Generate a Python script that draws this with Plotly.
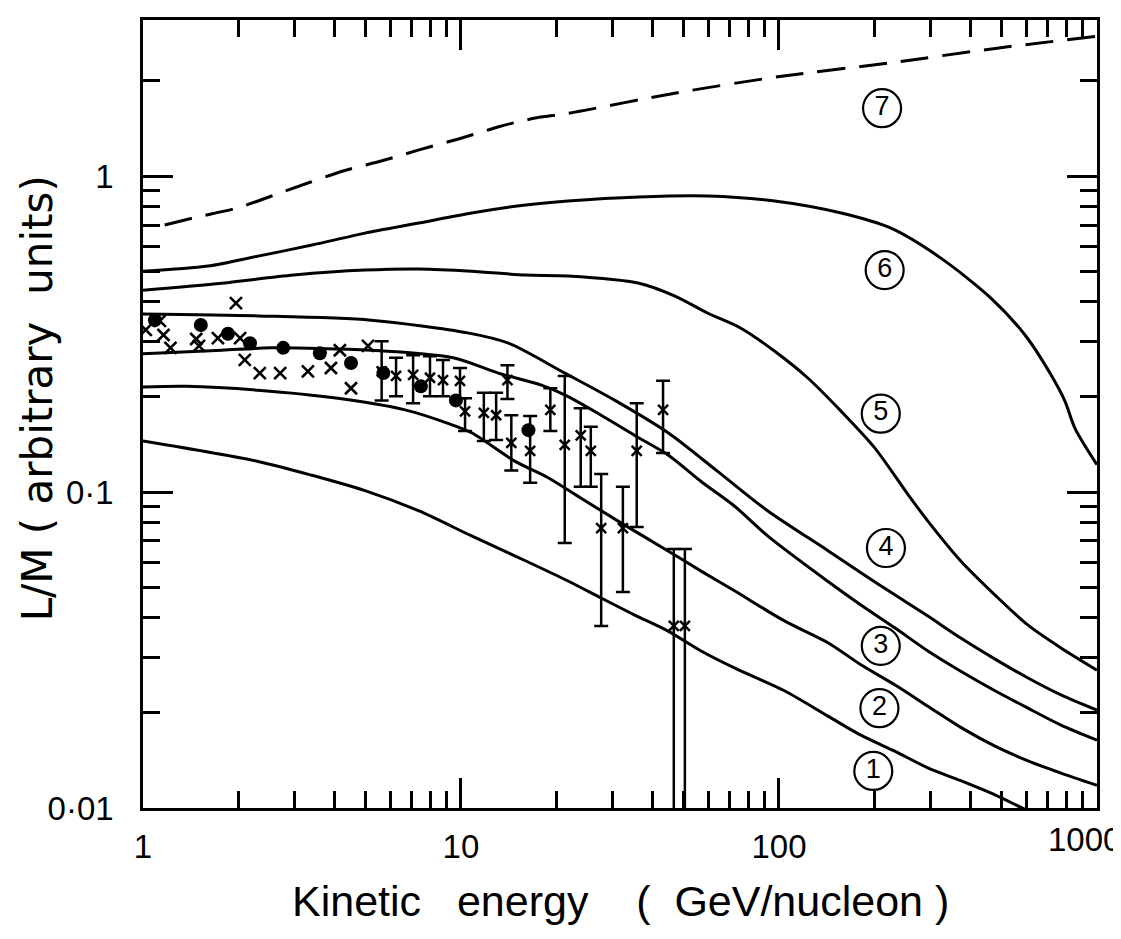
import plotly.graph_objects as go

# ---------------- data ----------------
c1_x = [1, 2.3, 3.4, 4.99, 7.38, 10.8, 16.0, 21.7, 27.6, 35.2, 44.8, 56.9, 72.7, 104, 143, 181, 232, 294, 373, 478, 607, 1000]
c1_y = [0.145, 0.125, 0.113, 0.101, 0.0871, 0.0726, 0.0605, 0.0523, 0.0462, 0.0408, 0.0363, 0.0314, 0.0277,
        0.0235, 0.0195, 0.0170, 0.0151, 0.0134, 0.0122, 0.0110, 0.0098, 0.0078]

c2_x = [1, 1.37, 2.3, 4.1, 6.67, 9.1, 10.8, 14.8, 18.8, 23.8, 31.2, 44.8, 56.9, 72.7, 104, 143, 181, 232, 294,
        373, 478, 607, 771, 1000]
c2_y = [0.215, 0.216, 0.210, 0.198, 0.182, 0.165, 0.154, 0.125, 0.111, 0.0957, 0.0809, 0.0651, 0.0562, 0.0486,
        0.0391, 0.0333, 0.0284, 0.0245, 0.0210, 0.0180, 0.0157, 0.0141, 0.0129, 0.0118]

c3_x = [1, 1.77, 2.53, 5.21, 9.44, 13.1, 17.9, 21.2, 27.6, 35.2, 44.8, 56.9, 72.7, 92.3, 143, 181, 232, 294, 373,
        478, 607, 771, 1000]
c3_y = [0.274, 0.281, 0.286, 0.281, 0.266, 0.238, 0.218, 0.203, 0.175, 0.151, 0.131, 0.108, 0.090, 0.0725, 0.0520,
        0.0439, 0.0371, 0.0314, 0.0271, 0.0235, 0.0207, 0.0183, 0.0164]

c4_x = [1, 2.3, 5.21, 10.5, 14.1, 21.2, 30.5, 44.8, 64.3, 92.3, 143, 181, 232, 294, 373, 478, 607, 771, 1000]
c4_y = [0.366, 0.361, 0.350, 0.319, 0.296, 0.238, 0.195, 0.154, 0.116, 0.0871, 0.0651, 0.0555, 0.0472, 0.0405,
        0.0345, 0.0296, 0.0258, 0.0228, 0.0204]

c5_x = [1, 1.77, 2.98, 4.99, 7.38, 10.8, 16.0, 21.7, 36.3, 47.1, 59.8, 75.9, 97.0, 123, 157, 200, 255, 294, 373,
        478, 607, 771, 1000]
c5_y = [0.435, 0.458, 0.486, 0.504, 0.508, 0.500, 0.486, 0.483, 0.458, 0.417, 0.368, 0.330, 0.279, 0.230, 0.180,
        0.138, 0.098, 0.0809, 0.0605, 0.0472, 0.0379, 0.0321, 0.0273]

c6_x = [1, 1.6, 2.3, 3.4, 4.99, 7.38, 10.8, 16.0, 21.7, 36.3, 59.8, 97.0, 157, 225, 323, 464, 594, 717, 793, 853, 1000]
c6_y = [0.500, 0.519, 0.558, 0.605, 0.660, 0.710, 0.764, 0.810, 0.834, 0.859, 0.865, 0.834, 0.764, 0.684, 0.550,
        0.411, 0.314, 0.235, 0.194, 0.159, 0.122]

c7_x = [1.17, 1.48, 1.98, 2.54, 3.30, 4.29, 5.68, 7.38, 10.07, 13.4, 17.3, 21.7, 47, 102, 222, 485, 1000]
c7_y = [0.70, 0.742, 0.793, 0.865, 0.951, 1.04, 1.12, 1.21, 1.32, 1.44, 1.53, 1.58, 1.83, 2.07, 2.28, 2.54, 2.77]

label_x = [198, 207, 209, 217, 209, 215, 211]
label_y = [0.0131, 0.0207, 0.0326, 0.0665, 0.177, 0.504, 1.64]
label_t = ["1", "2", "3", "4", "5", "6", "7"]

dots_x = [1.09, 1.52, 1.85, 2.17, 2.76, 3.60, 4.51, 5.7, 7.48, 9.64, 16.3]
dots_y = [0.350, 0.338, 0.317, 0.296, 0.286, 0.275, 0.256, 0.238, 0.216, 0.195, 0.157]

cross_x = [1.02, 1.13, 1.16, 1.22, 1.47, 1.50, 1.72, 1.96, 2.02, 2.09, 2.33, 2.70, 3.30, 3.90, 4.16, 4.51, 5.10]
cross_y = [0.326, 0.348, 0.314, 0.286, 0.305, 0.290, 0.307, 0.396, 0.307, 0.262, 0.238, 0.238, 0.241, 0.247,
           0.281, 0.213, 0.290]

err_x = [5.63, 6.25, 7.07, 7.99, 8.78, 9.93, 10.3, 11.8, 12.9, 14.0, 14.4, 16.5, 19.1, 21.2, 23.8, 25.6, 27.6,
         32.3, 35.7, 43.2, 46.7, 50.6]
err_y = [0.241, 0.233, 0.235, 0.230, 0.226, 0.225, 0.180, 0.178, 0.175, 0.226, 0.143, 0.135, 0.182, 0.141, 0.151,
         0.135, 0.0769, 0.0769, 0.135, 0.182, 0.0377, 0.0377]
err_hi = [0.300, 0.266, 0.271, 0.269, 0.262, 0.247, 0.198, 0.206, 0.206, 0.252, 0.175, 0.174, 0.213, 0.233, 0.184,
          0.161, 0.114, 0.104, 0.191, 0.225, 0.066, 0.066]
err_lo = [0.195, 0.201, 0.191, 0.201, 0.201, 0.198, 0.156, 0.145, 0.146, 0.197, 0.117, 0.107, 0.156, 0.069, 0.104,
          0.104, 0.0377, 0.0483, 0.0775, 0.133, 0.005, 0.005]

x_ticks = [1, 10, 100, 1000]
x_ticktext = ["1", "10", "100", ""]       # the "1000" label is set just inside the page edge below
x_last_label = "1000"
x_minor = [2, 3, 4, 5, 6, 7, 8, 9, 20, 30, 40, 50, 60, 70, 80, 90, 200, 300, 400, 500, 600, 700, 800, 900]
y_ticks = [0.01, 0.1, 1]
y_ticktext = ["0·01", "0·1", "1"]
y_minor = [0.02, 0.03, 0.04, 0.05, 0.06, 0.07, 0.08, 0.09, 0.2, 0.3, 0.4, 0.5, 0.6, 0.7, 0.8, 0.9, 2]

x_title = "Kinetic\u00a0\u00a0\u00a0energy\u00a0\u00a0\u00a0\u00a0(\u00a0\u00a0GeV/nucleon\u00a0)"
y_title = "L/M\u00a0(\u00a0arbitrary\u00a0\u00a0units)"

# ---------------- figure ----------------
BLACK = "black"
TICKFONT = dict(family="Liberation Sans", size=33, color=BLACK)
fig = go.Figure()

for cx, cy in [(c1_x, c1_y), (c2_x, c2_y), (c3_x, c3_y), (c4_x, c4_y), (c5_x, c5_y), (c6_x, c6_y)]:
    fig.add_trace(go.Scatter(x=cx, y=cy, mode="lines",
                             line=dict(color=BLACK, width=3, shape="spline", smoothing=0.8),
                             hoverinfo="skip"))

fig.add_trace(go.Scatter(x=c7_x, y=c7_y, mode="lines",
                         line=dict(color=BLACK, width=3, dash="28px,14px", shape="spline", smoothing=0.8),
                         hoverinfo="skip"))

fig.add_trace(go.Scatter(
    x=err_x, y=err_y, mode="markers",
    marker=dict(symbol="x-thin-open", size=10, color=BLACK, line=dict(width=2.5, color=BLACK)),
    error_y=dict(type="data", symmetric=False,
                 array=[h - v for h, v in zip(err_hi, err_y)],
                 arrayminus=[v - l for v, l in zip(err_y, err_lo)],
                 thickness=2.5, width=7, color=BLACK)))

fig.add_trace(go.Scatter(
    x=cross_x, y=cross_y, mode="markers",
    marker=dict(symbol="x-thin-open", size=12, color=BLACK, line=dict(width=2.6, color=BLACK))))

fig.add_trace(go.Scatter(
    x=dots_x, y=dots_y, mode="markers",
    marker=dict(symbol="circle", size=14, color=BLACK, line=dict(width=0))))

fig.add_trace(go.Scatter(
    x=label_x, y=label_y, mode="markers+text", text=label_t, textposition="middle center",
    textfont=dict(family="Liberation Sans", size=27, color=BLACK),
    marker=dict(symbol="circle-open", size=38, color=BLACK, line=dict(width=2.2, color=BLACK)),
    hoverinfo="skip"))

axis_common = dict(
    type="log", showgrid=False, zeroline=False,
    showline=True, linewidth=2.5, linecolor=BLACK, mirror="ticks",
    ticks="inside", ticklen=30, tickwidth=2.5, tickcolor=BLACK,
    tickfont=TICKFONT,
)

fig.update_layout(
    width=1121, height=939,
    margin=dict(l=135, r=32, t=12, b=139, autoexpand=False),
    paper_bgcolor="white", plot_bgcolor="white",
    showlegend=False,
    xaxis=dict(axis_common, range=[0, 3.0002], tickmode="array", tickvals=x_ticks, ticktext=x_ticktext,
               ticklabelstandoff=8,
               minor=dict(tickmode="array", tickvals=x_minor, ticks="inside", ticklen=17, tickwidth=2.5,
                          tickcolor=BLACK, showgrid=False)),
    yaxis=dict(axis_common, range=[-2, 0.494], tickmode="array", tickvals=y_ticks, ticktext=y_ticktext,
               ticklabelstandoff=20,
               minor=dict(tickmode="array", tickvals=y_minor, ticks="inside", ticklen=17, tickwidth=2.5,
                          tickcolor=BLACK, showgrid=False)),
    annotations=[
        dict(text=x_last_label, xref="paper", yref="paper", x=1.027, y=-0.0406, xanchor="right",
             yanchor="middle", showarrow=False, font=TICKFONT),
        dict(text=x_title, xref="paper", yref="paper", x=0.5, y=-0.118, xanchor="center", yanchor="middle",
             showarrow=False, font=dict(family="Liberation Sans", size=43, color=BLACK)),
        dict(text=y_title, xref="paper", yref="paper", x=-0.111, y=0.52, xanchor="center", yanchor="middle",
             textangle=-90, showarrow=False, font=dict(family="DejaVu Sans", size=42, color=BLACK)),
    ],
)

fig.write_html("out.html")
